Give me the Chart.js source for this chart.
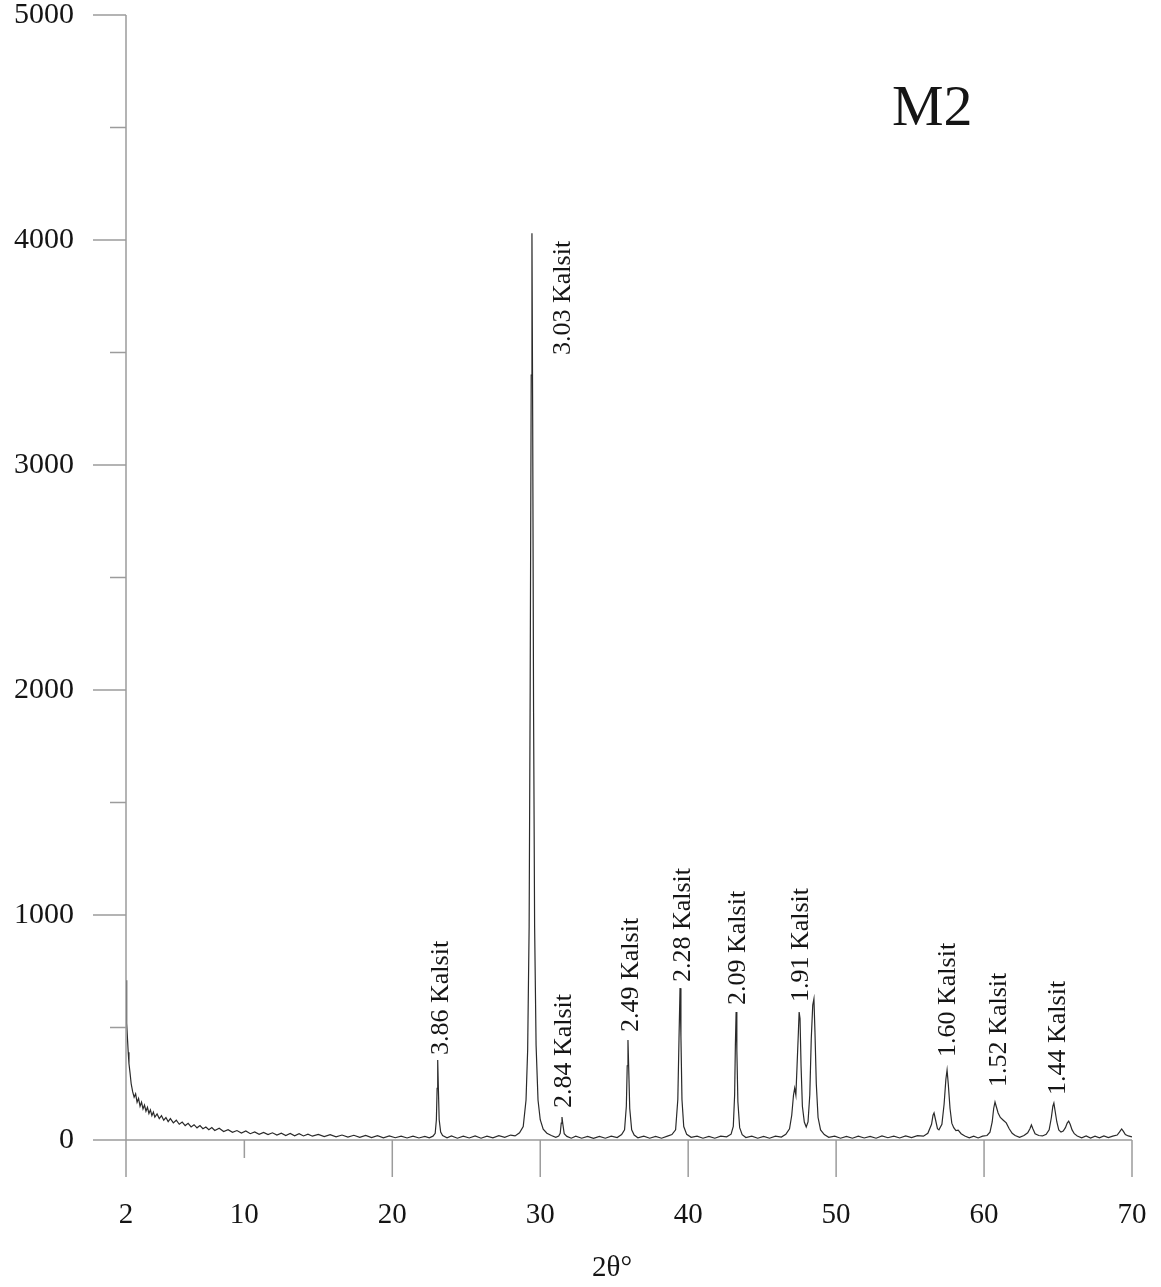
<!DOCTYPE html>
<html>
<head>
<meta charset="utf-8">
<title>M2</title>
<script src="https://cdn.jsdelivr.net/npm/chart.js@4.4.1/dist/chart.umd.min.js"></script>
<style>
    html, body { margin: 0; padding: 0; background: #fff; }
    #wrap { width: 1161px; height: 1287px; }
</style>
</head>
<body>
<div id="wrap"><canvas id="xrd" width="1161" height="1287"></canvas></div>
<script>
// Ticks
const xTickLabels = [2, 10, 20, 30, 40, 50, 60, 70];
const xMajorTicks = [20, 30, 40, 50, 60, 70];
const xMinorTicks = [10];
const yTickLabels = [0, 1000, 2000, 3000, 4000, 5000];
const yMinorTicks = [500, 1500, 2500, 3500, 4500];

// Peak labels: text, 2theta of the label, counts where the text starts
const peakNames = ['3.86 Kalsit', '3.03 Kalsit', '2.84 Kalsit', '2.49 Kalsit', '2.28 Kalsit',
                   '2.09 Kalsit', '1.91 Kalsit', '1.60 Kalsit', '1.52 Kalsit', '1.44 Kalsit'];
const peakAngles = [23.22, 31.47, 31.54, 36.07, 39.58, 43.30, 47.56, 57.50, 60.94, 64.93];
const peakLabelCounts = [378, 3489, 142, 480, 702, 600, 613, 369, 236, 200];

// Diffractogram: [2theta, counts]
const scan = [
    [2.00, 710], [2.03, 600], [2.06, 520], [2.10, 450], [2.15, 390], [2.20, 340], [2.27, 300],
    [2.35, 250], [2.45, 215], [2.55, 190], [2.65, 205], [2.75, 168], [2.85, 185], [2.95, 150],
    [3.05, 168], [3.15, 138], [3.25, 155], [3.35, 128], [3.45, 145], [3.55, 118], [3.65, 134],
    [3.75, 108], [3.85, 124], [3.95, 102], [4.10, 116], [4.25, 95], [4.40, 108], [4.55, 88],
    [4.70, 100], [4.85, 82], [5.00, 95], [5.20, 76], [5.40, 88], [5.60, 70], [5.80, 80],
    [6.00, 64], [6.20, 74], [6.40, 58], [6.60, 68], [6.80, 54], [7.00, 64], [7.20, 50],
    [7.40, 58], [7.60, 46], [7.80, 55], [8.00, 42], [8.30, 52], [8.60, 38], [8.90, 46],
    [9.20, 34], [9.50, 42], [9.80, 31], [10.1, 40], [10.4, 28], [10.7, 36], [11.0, 25],
    [11.3, 34], [11.6, 24], [11.9, 32], [12.2, 22], [12.5, 30], [12.8, 20], [13.1, 29],
    [13.4, 19], [13.7, 28], [14.0, 18], [14.3, 26], [14.6, 17], [15.0, 25], [15.4, 15],
    [15.8, 24], [16.2, 14], [16.6, 22], [17.0, 13], [17.4, 21], [17.8, 12], [18.2, 20],
    [18.6, 11], [19.0, 19], [19.4, 10], [19.8, 18], [20.2, 10], [20.6, 17], [21.0, 9],
    [21.4, 17], [21.8, 9], [22.2, 16], [22.5, 10], [22.75, 17], [22.9, 30], [22.98, 90],
    [23.03, 230], [23.07, 356], [23.11, 240], [23.17, 90], [23.27, 35], [23.4, 20], [23.7, 10],
    [24.0, 18], [24.4, 8], [24.8, 17], [25.2, 9], [25.6, 18], [26.0, 8], [26.4, 17],
    [26.8, 10], [27.2, 19], [27.6, 12], [28.0, 22], [28.3, 18], [28.6, 32], [28.85, 60],
    [29.04, 178], [29.15, 400], [29.25, 950], [29.32, 2000], [29.39, 3400], [29.44, 4030],
    [29.49, 3200], [29.55, 1900], [29.62, 950], [29.72, 420], [29.85, 178], [30.0, 90],
    [30.2, 48], [30.45, 30], [30.75, 20], [31.05, 12], [31.25, 18], [31.35, 30], [31.42, 75],
    [31.47, 102], [31.53, 70], [31.62, 28], [31.8, 16], [32.1, 8], [32.4, 17], [32.8, 8],
    [33.2, 16], [33.6, 7], [34.0, 16], [34.4, 8], [34.8, 17], [35.2, 11], [35.5, 24],
    [35.7, 45], [35.82, 150], [35.88, 330], [35.93, 444], [35.98, 320], [36.05, 140],
    [36.18, 45], [36.35, 22], [36.6, 10], [37.0, 17], [37.4, 8], [37.8, 16], [38.2, 8],
    [38.6, 17], [38.9, 24], [39.15, 45], [39.3, 180], [39.38, 450], [39.45, 675], [39.51, 460],
    [39.58, 180], [39.7, 60], [39.9, 25], [40.2, 12], [40.6, 17], [41.0, 8], [41.4, 16],
    [41.8, 8], [42.2, 17], [42.6, 14], [42.9, 26], [43.05, 60], [43.14, 200], [43.19, 420],
    [43.24, 569], [43.29, 400], [43.36, 170], [43.48, 55], [43.65, 24], [43.9, 11], [44.3, 17],
    [44.7, 8], [45.1, 16], [45.5, 8], [45.9, 17], [46.3, 13], [46.6, 25], [46.85, 50],
    [47.0, 110], [47.12, 200], [47.2, 231], [47.28, 200], [47.36, 330], [47.45, 480],
    [47.5, 569], [47.56, 540], [47.63, 330], [47.72, 150], [47.85, 80], [47.98, 58],
    [48.1, 80], [48.22, 200], [48.32, 450], [48.42, 600], [48.5, 627], [48.57, 480],
    [48.66, 250], [48.78, 100], [48.95, 45], [49.2, 24], [49.5, 12], [49.9, 17], [50.3, 8],
    [50.7, 16], [51.1, 8], [51.5, 17], [51.9, 9], [52.3, 16], [52.7, 8], [53.1, 18],
    [53.5, 10], [53.9, 17], [54.3, 9], [54.7, 18], [55.1, 11], [55.5, 19], [55.9, 17],
    [56.2, 30], [56.45, 70], [56.55, 110], [56.62, 120], [56.72, 90], [56.85, 50], [56.95, 45],
    [57.15, 70], [57.3, 160], [57.42, 270], [57.5, 311], [57.58, 250], [57.7, 140], [57.82, 75],
    [57.95, 55], [58.1, 42], [58.25, 44], [58.45, 28], [58.7, 18], [59.0, 10], [59.3, 17],
    [59.6, 9], [59.9, 17], [60.2, 20], [60.4, 35], [60.55, 80], [60.65, 140], [60.74, 169],
    [60.82, 150], [60.95, 120], [61.1, 100], [61.3, 88], [61.5, 76], [61.7, 50], [61.9, 30],
    [62.1, 20], [62.4, 12], [62.7, 20], [62.95, 32], [63.1, 50], [63.2, 67], [63.3, 50],
    [63.45, 28], [63.7, 20], [63.95, 18], [64.2, 25], [64.4, 45], [64.55, 100], [64.65, 150],
    [64.72, 164], [64.8, 130], [64.92, 80], [65.05, 45], [65.2, 35], [65.35, 40], [65.5, 55],
    [65.62, 75], [65.72, 84], [65.82, 70], [65.95, 45], [66.1, 28], [66.3, 18], [66.6, 10],
    [66.9, 18], [67.2, 9], [67.5, 17], [67.8, 10], [68.1, 18], [68.4, 11], [68.7, 17],
    [69.0, 22], [69.15, 35], [69.3, 49], [69.42, 38], [69.55, 24], [69.75, 18], [70.0, 14]
];

const serif = "'Liberation Serif', 'DejaVu Serif', serif";
const axisGray = '#9c9c9c';
const textColor = '#151515';

// axis lines, tick marks and annotations
const decorations = {
    id: 'decorations',
    afterDraw(chart) {
        const ctx = chart.ctx;
        const xs = chart.scales.x, ys = chart.scales.y;
        const left = xs.left, right = xs.right, bottom = ys.bottom, top = ys.top;
        ctx.save();
        ctx.strokeStyle = axisGray;
        ctx.lineWidth = 1.5;
        ctx.beginPath();
        // y axis, runs below the x axis down to the length of a major x tick
        ctx.moveTo(left, top);
        ctx.lineTo(left, bottom + 37);
        // y ticks
        yTickLabels.forEach(v => {
            const y = ys.getPixelForValue(v);
            ctx.moveTo(left - 33, y);
            ctx.lineTo(v === 0 ? right : left, y);
        });
        yMinorTicks.forEach(v => {
            const y = ys.getPixelForValue(v);
            ctx.moveTo(left - 16, y);
            ctx.lineTo(left, y);
        });
        // x ticks
        xMajorTicks.forEach(v => {
            const x = xs.getPixelForValue(v);
            ctx.moveTo(x, bottom);
            ctx.lineTo(x, bottom + 37);
        });
        xMinorTicks.forEach(v => {
            const x = xs.getPixelForValue(v);
            ctx.moveTo(x, bottom);
            ctx.lineTo(x, bottom + 18);
        });
        ctx.stroke();

        ctx.fillStyle = textColor;
        // peak labels
        ctx.font = '26px ' + serif;
        ctx.textAlign = 'left';
        ctx.textBaseline = 'middle';
        peakNames.forEach((name, i) => {
            const x = xs.getPixelForValue(peakAngles[i]);
            const y = ys.getPixelForValue(peakLabelCounts[i]);
            ctx.save();
            ctx.translate(x, y);
            ctx.rotate(-Math.PI / 2);
            ctx.fillText(name, 0, 1);
            ctx.restore();
        });

        // sample name
        ctx.font = '58px ' + serif;
        ctx.textBaseline = 'alphabetic';
        ctx.fillText('M2', 892, 125);

        // x axis title
        ctx.font = '29px ' + serif;
        ctx.textAlign = 'center';
        ctx.fillText('2θ°', 612, 1276);
        ctx.restore();
    }
};

new Chart(document.getElementById('xrd'), {
    type: 'line',
    data: {
        datasets: [{
            data: scan.map(([a, c]) => ({ x: a, y: c })),
            borderColor: '#2a2a2a',
            borderWidth: 1.2,
            pointRadius: 0,
            tension: 0,
            fill: false
        }]
    },
    options: {
        responsive: false,
        animation: false,
        layout: { padding: { top: 15, right: 29, left: 0, bottom: 0 } },
        plugins: {
            legend: { display: false },
            tooltip: { enabled: false }
        },
        scales: {
            x: {
                type: 'linear',
                min: 2,
                max: 70,
                afterFit(scale) {
                    scale.height = 147;
                    scale.paddingLeft = 0;
                    scale.paddingRight = 0;
                },
                afterBuildTicks(scale) { scale.ticks = xTickLabels.map(v => ({ value: v })); },
                grid: { display: false },
                border: { display: false },
                ticks: {
                    autoSkip: false,
                    maxRotation: 0,
                    padding: 50,
                    color: textColor,
                    font: { family: serif, size: 29 },
                    callback: v => String(v)
                }
            },
            y: {
                min: 0,
                max: 5000,
                afterFit(scale) {
                    scale.width = 126;
                    scale.paddingTop = 0;
                    scale.paddingBottom = 0;
                },
                afterBuildTicks(scale) { scale.ticks = yTickLabels.map(v => ({ value: v })); },
                grid: { display: false },
                border: { display: false },
                ticks: {
                    padding: 44,
                    color: textColor,
                    font: { family: serif, size: 30 },
                    callback: v => String(v)
                }
            }
        }
    },
    plugins: [decorations]
});
</script>
</body>
</html>
